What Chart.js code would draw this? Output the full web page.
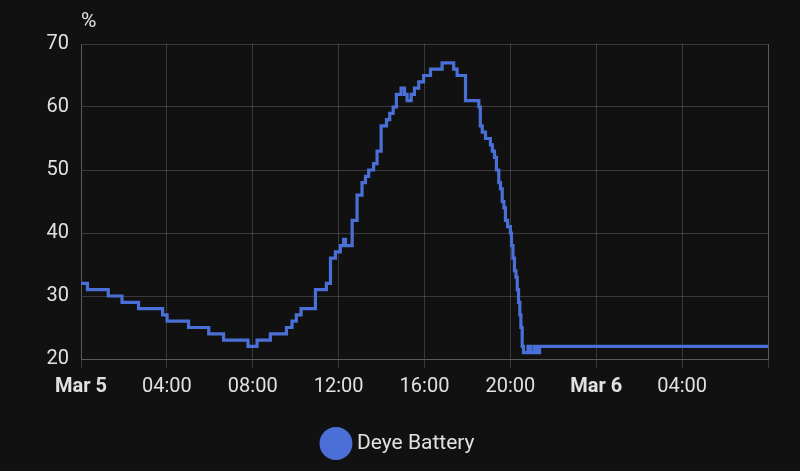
<!DOCTYPE html>
<html>
<head>
<meta charset="utf-8">
<script src="https://cdn.jsdelivr.net/npm/chart.js@4/dist/chart.umd.min.js"></script>
<style>
  html, body { margin: 0; padding: 0; background: #111111; }
  #wrap { width: 800px; height: 471px; position: relative; }
</style>
</head>
<body>
<div id="wrap"><canvas id="c" width="800" height="471"></canvas></div>
<script>
// Hours since Mar 5 00:00 at which the battery state of charge changed
const hours = [
  0, 0.3, 1.27, 1.91, 2.68, 3.80, 4.01, 5.01, 5.95, 6.64, 7.78, 8.20, 8.82,
  9.57, 9.83, 10.03, 10.25, 10.92, 11.43, 11.62, 11.85, 12.08, 12.23, 12.32,
  12.63, 12.86, 13.09, 13.25, 13.40, 13.63, 13.79, 13.98, 14.23, 14.38, 14.54,
  14.69, 14.91, 15.07, 15.19, 15.38, 15.53, 15.73, 15.96, 16.28, 16.82, 17.36,
  17.52, 17.91, 18.53, 18.60, 18.69, 18.84, 19.07, 19.16, 19.26, 19.35, 19.46,
  19.54, 19.62, 19.70, 19.77, 19.87, 20.00, 20.05, 20.12, 20.19, 20.26, 20.32,
  20.38, 20.44, 20.49, 20.55, 20.61, 20.82, 20.96, 21.12, 21.22, 21.36, 32
];
// Battery state of charge (%)
const soc = [
  32, 31, 30, 29, 28, 27, 26, 25, 24, 23, 22, 23, 24,
  25, 26, 27, 28, 31, 32, 36, 37, 38, 39, 38,
  42, 46, 48, 49, 50, 51, 53, 57, 58, 59, 60,
  62, 63, 62, 61, 62, 63, 64, 65, 66, 67, 66,
  65, 61, 60, 57, 56, 55, 54, 53, 52, 50, 48,
  47, 45, 44, 42, 41, 40, 38, 36, 34, 33, 31,
  29, 27, 25, 22, 21, 22, 21, 22, 21, 22, 22
];
const xTickLabels = ['Mar 5', '04:00', '08:00', '12:00', '16:00', '20:00', 'Mar 6', '04:00'];
const seriesName = 'Deye Battery';
const unit = '%';

const lineColor = '#4a6fd6';
const gridColor = 'rgba(255,255,255,0.17)';
const textColor = '#e1e1e1';
const family = 'Roboto, "Noto Sans", sans-serif';

const points = hours.map((h, i) => ({ x: h, y: soc[i] }));

const unitPlugin = {
  id: 'unitLabel',
  afterDraw(chart) {
    const { ctx, chartArea } = chart;
    ctx.save();
    ctx.fillStyle = textColor;
    ctx.font = '21px ' + family;
    ctx.textAlign = 'left';
    ctx.textBaseline = 'alphabetic';
    ctx.fillText(unit, chartArea.left, 27);
    ctx.restore();
  }
};

const bgPlugin = {
  id: 'bg',
  beforeDraw(chart) {
    const { ctx, width, height } = chart;
    ctx.save();
    ctx.fillStyle = '#111111';
    ctx.fillRect(0, 0, width, height);
    ctx.restore();
  }
};

new Chart(document.getElementById('c'), {
  type: 'line',
  data: {
    datasets: [{
      label: seriesName,
      data: points,
      borderColor: lineColor,
      backgroundColor: lineColor,
      borderWidth: 3.2,
      pointRadius: 0,
      pointHoverRadius: 0,
      stepped: 'before',
      tension: 0,
      fill: false
    }]
  },
  options: {
    responsive: false,
    animation: false,
    devicePixelRatio: 1,
    layout: { padding: { left: 0, right: 0, top: 44, bottom: 7 } },
    plugins: {
      legend: {
        display: true,
        position: 'bottom',
        labels: {
          color: textColor,
          font: { family, size: 21 },
          usePointStyle: true,
          pointStyle: 'circle',
          boxHeight: 21,
          padding: 10
        }
      },
      tooltip: { enabled: false }
    },
    scales: {
      x: {
        type: 'linear',
        min: 0,
        max: 32,
        afterBuildTicks(scale) {
          scale.ticks = xTickLabels.map((_, i) => ({ value: i * 4 })).concat([{ value: 32 }]);
        },
        afterFit(scale) { scale.height = 64; },
        grid: { color: gridColor, lineWidth: 1, tickLength: 9, drawTicks: true },
        border: { display: true, color: gridColor },
        ticks: {
          color: textColor,
          padding: 7,
          maxRotation: 0,
          autoSkip: false,
          font: (ctx) => ({
            family,
            size: 20,
            weight: (ctx.tick && ctx.tick.value % 24 === 0) ? 'bold' : 'normal'
          }),
          callback: (value, index) => xTickLabels[index] !== undefined ? xTickLabels[index] : ''
        }
      },
      y: {
        min: 20,
        max: 70,
        afterFit(scale) { scale.width = 81; },
        grid: { color: gridColor, lineWidth: 1, drawTicks: false },
        border: { display: true, color: gridColor },
        ticks: {
          stepSize: 10,
          color: textColor,
          padding: 12,
          font: { family, size: 20 }
        }
      },
      yRight: {
        position: 'right',
        min: 20,
        max: 70,
        afterFit(scale) { scale.width = 32; },
        grid: { display: true, drawOnChartArea: false, drawTicks: false, color: gridColor },
        border: { display: true, color: gridColor },
        ticks: { display: false }
      }
    }
  },
  plugins: [bgPlugin, unitPlugin]
});
</script>
</body>
</html>
